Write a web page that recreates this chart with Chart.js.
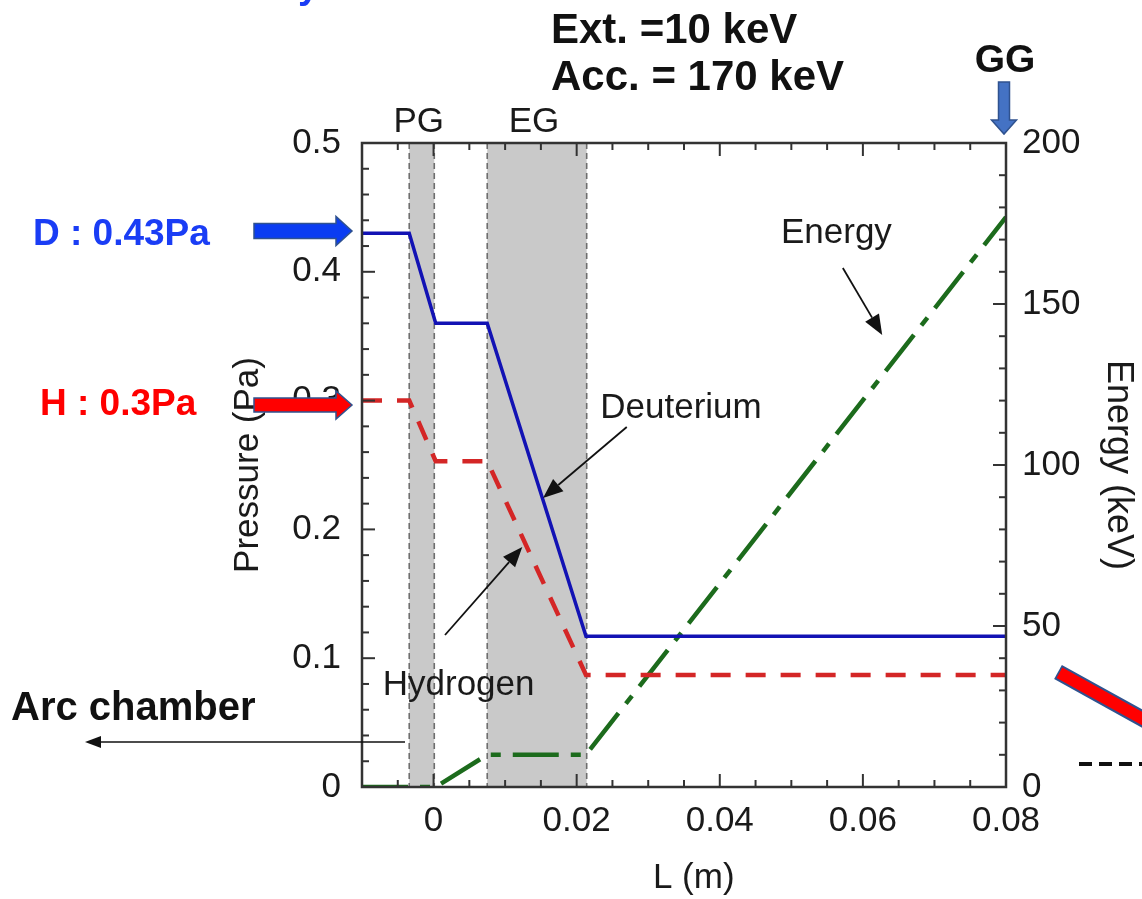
<!DOCTYPE html>
<html>
<head>
<meta charset="utf-8">
<script src="https://cdn.jsdelivr.net/npm/chart.js@4.4.0/dist/chart.umd.min.js"></script>
<style>
  html, body { margin: 0; padding: 0; background: #fff; }
  #wrap { width: 1142px; height: 899px; }
</style>
</head>
<body>
<div id="wrap"><canvas id="pressureChart" width="1142" height="899"></canvas></div>
<script>
// --- data ---
const deuteriumL = [-0.01, -0.0034, 0.0003, 0.0075, 0.0213, 0.08];
const deuteriumP = [0.43, 0.43, 0.36, 0.36, 0.117, 0.117];

const hydrogenL = [-0.01, -0.0034, 0.0003, 0.0075, 0.0213, 0.08];
const hydrogenP = [0.30, 0.30, 0.253, 0.253, 0.087, 0.087];

const energyL = [-0.01, 0.0003, 0.0075, 0.0213, 0.08];
const energyKeV = [0, 0, 10, 10, 177];

// grid electrodes (grey bands)
const bandNames = ["PG", "EG"];
const bandStart = [-0.0034, 0.0075];
const bandEnd = [0.0001, 0.0214];

// tick labels
const xTicks = [0, 0.02, 0.04, 0.06, 0.08];
const pressureTicks = [0, 0.1, 0.2, 0.3, 0.4, 0.5];
const energyTicks = [0, 50, 100, 150, 200];

const FONT = "'Liberation Sans', Arial, sans-serif";
const INK = "#1a1a1a";

const toXY = (xs, ys) => xs.map((x, i) => ({ x: x, y: ys[i] }));

// small helper: filled arrow head at (x2,y2) pointing from (x1,y1)
function arrowLine(ctx, x1, y1, x2, y2, headLen, headHalf, width) {
  const ang = Math.atan2(y2 - y1, x2 - x1);
  const bx = x2 - headLen * Math.cos(ang);
  const by = y2 - headLen * Math.sin(ang);
  ctx.save();
  ctx.strokeStyle = "#111";
  ctx.fillStyle = "#111";
  ctx.lineWidth = width;
  ctx.beginPath();
  ctx.moveTo(x1, y1);
  ctx.lineTo(bx, by);
  ctx.stroke();
  ctx.beginPath();
  ctx.moveTo(x2, y2);
  ctx.lineTo(bx + headHalf * Math.sin(ang), by - headHalf * Math.cos(ang));
  ctx.lineTo(bx - headHalf * Math.sin(ang), by + headHalf * Math.cos(ang));
  ctx.closePath();
  ctx.fill();
  ctx.restore();
}

// block arrow (powerpoint style) pointing right or down
function blockArrow(ctx, x, y, len, shaft, headLen, headW, fill, dir) {
  ctx.save();
  ctx.translate(x, y);
  if (dir === "down") ctx.rotate(Math.PI / 2);
  const s = shaft / 2, h = headW / 2;
  ctx.beginPath();
  ctx.moveTo(0, -s);
  ctx.lineTo(len - headLen, -s);
  ctx.lineTo(len - headLen, -h);
  ctx.lineTo(len, 0);
  ctx.lineTo(len - headLen, h);
  ctx.lineTo(len - headLen, s);
  ctx.lineTo(0, s);
  ctx.closePath();
  ctx.fillStyle = fill;
  ctx.fill();
  ctx.lineWidth = 1.5;
  ctx.strokeStyle = "#2f528f";
  ctx.stroke();
  ctx.restore();
}

const bandsPlugin = {
  id: "bands",
  beforeDatasetsDraw(chart) {
    const { ctx, chartArea: a, scales } = chart;
    const xs = scales.x;
    ctx.save();
    bandNames.forEach((name, i) => {
      const x1 = xs.getPixelForValue(bandStart[i]);
      const x2 = xs.getPixelForValue(bandEnd[i]);
      ctx.fillStyle = "#c9c9c9";
      ctx.fillRect(x1, a.top, x2 - x1, a.bottom - a.top);
      ctx.strokeStyle = "#6e6e6e";
      ctx.lineWidth = 1.6;
      ctx.setLineDash([6, 4]);
      [x1, x2].forEach(px => {
        ctx.beginPath();
        ctx.moveTo(px, a.top);
        ctx.lineTo(px, a.bottom);
        ctx.stroke();
      });
      ctx.setLineDash([]);
      ctx.fillStyle = INK;
      ctx.font = "35px " + FONT;
      ctx.textAlign = "center";
      ctx.textBaseline = "alphabetic";
      ctx.fillText(name, (x1 + x2) / 2 - 3, a.top - 11);
    });
    ctx.restore();
  }
};

const framePlugin = {
  id: "frame",
  afterDatasetsDraw(chart) {
    const { ctx, chartArea: a, scales } = chart;
    const xs = scales.x, yp = scales.y, ye = scales.y2;
    ctx.save();

    // inward tick marks on all four sides
    ctx.strokeStyle = "#333";
    ctx.lineWidth = 2;
    const tick = (x1, y1, x2, y2) => { ctx.beginPath(); ctx.moveTo(x1, y1); ctx.lineTo(x2, y2); ctx.stroke(); };
    for (let k = 0; k <= 18; k++) {
      const v = -0.01 + k * 0.005;
      const px = xs.getPixelForValue(v);
      const major = xTicks.some(t => Math.abs(t - v) < 1e-9);
      const len = major ? 13 : 7;
      tick(px, a.bottom, px, a.bottom - len);
      tick(px, a.top, px, a.top + len);
    }
    for (let k = 0; k <= 25; k++) {
      const v = k * 0.02;
      const py = yp.getPixelForValue(v);
      const major = pressureTicks.some(t => Math.abs(t - v) < 1e-9);
      tick(a.left, py, a.left + (major ? 13 : 7), py);
    }
    for (let k = 0; k <= 20; k++) {
      const v = k * 10;
      const py = ye.getPixelForValue(v);
      const major = energyTicks.includes(v);
      tick(a.right, py, a.right - (major ? 13 : 7), py);
    }

    // frame
    ctx.lineWidth = 2.5;
    ctx.strokeRect(a.left, a.top, a.right - a.left, a.bottom - a.top);

    // in-plot labels and pointers
    ctx.fillStyle = INK;
    ctx.font = "35px " + FONT;
    ctx.textBaseline = "middle";
    ctx.textAlign = "center";
    ctx.fillText("Energy", xs.getPixelForValue(0.0563), yp.getPixelForValue(0.43));
    ctx.textAlign = "left";
    ctx.fillText("Deuterium", xs.getPixelForValue(0.0233), yp.getPixelForValue(0.294));
    ctx.fillText("Hydrogen", xs.getPixelForValue(-0.0071), yp.getPixelForValue(0.079));

    const P = (lx, py) => [xs.getPixelForValue(lx), yp.getPixelForValue(py)];
    const arrows = [
      [P(0.0572, 0.403), P(0.0627, 0.351)],
      [P(0.0270, 0.2795), P(0.0153, 0.2244)],
      [P(0.0016, 0.118), P(0.0124, 0.1863)]
    ];
    arrows.forEach(([s, e]) => arrowLine(ctx, s[0], s[1], e[0], e[1], 20, 8, 1.8));

    // --- slide annotations around the plot ---
    ctx.textBaseline = "alphabetic";
    ctx.textAlign = "left";
    ctx.font = "bold 42px " + FONT;
    ctx.fillStyle = "#111";
    ctx.fillText("Ext. =10 keV", 551, 43);
    ctx.fillText("Acc. = 170 keV", 551, 90);
    ctx.textAlign = "center";
    ctx.font = "bold 39px " + FONT;
    ctx.fillText("GG", 1005, 72);
    ctx.textAlign = "left";
    ctx.font = "bold 40px " + FONT;
    ctx.fillText("Arc chamber", 11, 720);

    ctx.font = "bold 37px " + FONT;
    ctx.fillStyle = "#1a3df5";
    ctx.fillText("D : 0.43Pa", 33, 245);
    ctx.fillStyle = "#ff0000";
    ctx.fillText("H : 0.3Pa", 40, 415);

    // cut-off title descender at the top
    ctx.fillStyle = "#1a3df5";
    ctx.font = "bold 38px " + FONT;
    ctx.fillText("y", 298, -2);

    blockArrow(ctx, 254, 231, 98, 15, 16, 29, "#0a3cf2", "right");
    blockArrow(ctx, 254, 405, 98, 14, 16, 28, "#ff0000", "right");
    blockArrow(ctx, 1004, 82, 52, 11, 14, 25, "#4472c4", "down");

    // thin arrow towards the arc chamber
    arrowLine(ctx, 405, 742, 85, 742, 16, 6, 1.3);

    // red bar and dashed line at the right edge
    ctx.lineCap = "butt";
    ctx.strokeStyle = "#2f528f";
    ctx.lineWidth = 16;
    ctx.beginPath(); ctx.moveTo(1058, 672); ctx.lineTo(1170, 734); ctx.stroke();
    ctx.strokeStyle = "#ff0000";
    ctx.lineWidth = 12;
    ctx.beginPath(); ctx.moveTo(1059.5, 672.8); ctx.lineTo(1170, 734); ctx.stroke();

    ctx.strokeStyle = "#111";
    ctx.lineWidth = 4;
    ctx.setLineDash([13, 7]);
    ctx.beginPath(); ctx.moveTo(1079, 764); ctx.lineTo(1142, 764); ctx.stroke();
    ctx.setLineDash([]);

    ctx.restore();
  }
};

const ctx = document.getElementById("pressureChart").getContext("2d");
new Chart(ctx, {
  type: "line",
  data: {
    datasets: [
      {
        label: "Deuterium",
        data: toXY(deuteriumL, deuteriumP),
        yAxisID: "y",
        borderColor: "#1212b4",
        borderWidth: 3.5,
        pointRadius: 0,
        tension: 0
      },
      {
        label: "Hydrogen",
        data: toXY(hydrogenL, hydrogenP),
        yAxisID: "y",
        borderColor: "#d42626",
        borderWidth: 4.5,
        borderDash: [20, 15],
        pointRadius: 0,
        tension: 0
      },
      {
        label: "Energy",
        data: toXY(energyL, energyKeV),
        yAxisID: "y2",
        borderColor: "#1c6b1c",
        borderWidth: 4.5,
        borderDash: [46, 12, 10, 12],
        pointRadius: 0,
        tension: 0
      }
    ]
  },
  options: {
    responsive: false,
    animation: false,
    events: [],
    layout: { padding: { left: 222, right: 2, top: 143, bottom: 0 } },
    plugins: { legend: { display: false }, tooltip: { enabled: false } },
    scales: {
      x: {
        type: "linear",
        min: -0.01,
        max: 0.08,
        grid: { display: false, drawTicks: false },
        border: { display: false },
        afterBuildTicks: (s) => { s.ticks = xTicks.map(v => ({ value: v })); },
        afterFit: (s) => { s.height = 112; },
        ticks: {
          color: INK,
          font: { family: FONT, size: 35 },
          padding: 13,
          maxRotation: 0,
          autoSkip: false,
          callback: (v) => (v === 0 ? "0" : Number(v).toFixed(2))
        },
        title: {
          display: true,
          text: "  L (m)",
          color: INK,
          font: { family: FONT, size: 35 },
          padding: { top: 0, bottom: 0 }
        }
      },
      y: {
        position: "left",
        min: 0,
        max: 0.5,
        grid: { display: false, drawTicks: false },
        border: { display: false },
        afterBuildTicks: (s) => { s.ticks = pressureTicks.map(v => ({ value: v })); },
        afterFit: (s) => { s.width = 140; },
        ticks: {
          color: INK,
          font: { family: FONT, size: 35 },
          padding: 21,
          callback: (v) => (v === 0 ? "0" : Number(v).toFixed(1))
        },
        title: {
          display: true,
          text: "Pressure (Pa)",
          color: INK,
          font: { family: FONT, size: 35 },
          padding: { top: 5, bottom: 0 }
        }
      },
      y2: {
        position: "right",
        min: 0,
        max: 200,
        grid: { display: false, drawTicks: false },
        border: { display: false },
        afterBuildTicks: (s) => { s.ticks = energyTicks.map(v => ({ value: v })); },
        afterFit: (s) => { s.width = 134; },
        ticks: {
          color: INK,
          font: { family: FONT, size: 35 },
          padding: 16,
          callback: (v) => String(v)
        },
        title: {
          display: true,
          text: "Energy (keV)",
          color: INK,
          font: { family: FONT, size: 36 },
          padding: { top: 0, bottom: 0 }
        }
      }
    }
  },
  plugins: [bandsPlugin, framePlugin]
});
</script>
</body>
</html>
